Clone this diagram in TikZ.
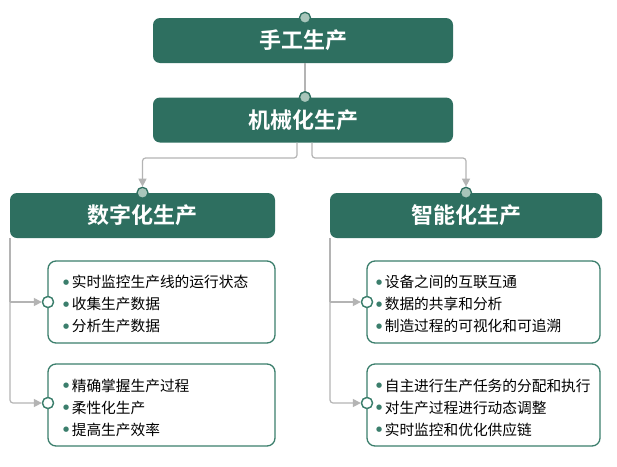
\documentclass[tikz,border=0pt]{standalone}
\usepackage{fontspec}
\setmainfont{Noto Sans CJK SC}
\newfontfamily\cjk{Noto Sans CJK SC}
\newfontfamily\cjkb{Noto Sans CJK SC Bold}
\newfontfamily\dejavu{DejaVu Sans}
\usetikzlibrary{arrows.meta}
\definecolor{dg}{HTML}{2E6F60}
\definecolor{bg}{HTML}{3B7E6C}
\definecolor{lc}{HTML}{A8C5BA}
\definecolor{gl}{HTML}{B4B4B4}
\tikzset{
  title/.style={fill=dg, rounded corners=7pt, minimum height=45pt, inner sep=0pt, text=white, font=\cjkb\fontsize{22}{24}\selectfont},
  detail/.style={draw=bg, line width=1.3pt, fill=white, rounded corners=8pt, minimum width=227pt, minimum height=82pt, inner sep=0pt},
  dtext/.style={align=left, anchor=west, inner sep=0pt, font=\cjk\fontsize{14.7}{22}\selectfont},
  topdot/.style={circle, draw=dg, fill=lc, line width=1.3pt, minimum size=11pt, inner sep=0pt},
  sidedot/.style={circle, draw=bg, fill=white, line width=1.3pt, minimum size=11pt, inner sep=0pt},
  gline/.style={draw=gl, line width=1.2pt, rounded corners=3pt},
  garrow/.style={gline, -{Triangle[length=8pt,width=8pt]}},
}
\newcommand{\bul}{\textcolor{bg}{\raisebox{0.22em}{\dejavu\fontsize{7}{7}\selectfont ●}}\hspace{2.5pt}}
\begin{document}
\begin{tikzpicture}[x=1pt,y=-1pt]
\useasboundingbox (0,0) rectangle (617,466);
\fill[white] (0,0) rectangle (617,466);

% title boxes
\node[title, minimum width=300pt] (t1) at (303,40.5) {手工生产};
\node[title, minimum width=300pt] (t2) at (303,120) {机械化生产};
\node[title, minimum width=265pt] (t3) at (142.5,215.5) {数字化生产};
\node[title, minimum width=272pt] (t4) at (466,215.5) {智能化生产};

% dots on titles
\node[topdot] (d1) at ([xshift=2pt]t1.north) {};
\node[topdot] (d2) at ([xshift=2pt]t2.north) {};
\node[topdot] (d3) at (t3.north) {};
\node[topdot] (d4) at (t4.north) {};

% detail boxes
\node[detail] (b1) at (161.5,302) {};
\node[detail] (b2) at (161.5,405) {};
\node[detail, minimum width=233pt] (b3) at (483.5,302) {};
\node[detail, minimum width=233pt] (b4) at (483.5,405) {};

\node[dtext] (x1) at (63,304) {\bul 实时监控生产线的运行状态\\\bul 收集生产数据\\\bul 分析生产数据};
\node[dtext] (x2) at (63,407.5) {\bul 精确掌握生产过程\\\bul 柔性化生产\\\bul 提高生产效率};
\node[dtext] (x3) at (376,304) {\bul 设备之间的互联互通\\\bul 数据的共享和分析\\\bul 制造过程的可视化和可追溯};
\node[dtext] (x4) at (376,407.5) {\bul 自主进行生产任务的分配和执行\\\bul 对生产过程进行动态调整\\\bul 实时监控和优化供应链};

% side dots
\node[sidedot] (s1) at (48,302) {};
\node[sidedot] (s2) at (48,403) {};
\node[sidedot] (s3) at (367,302) {};
\node[sidedot] (s4) at (367,403) {};

% connectors
\draw[gline] (t1.south -| d1) -- (d2.north);
\coordinate (c1) at (297,158);
\coordinate (c2) at (312,158);
\draw[garrow] (t2.south -| c1) -- (c1) -- (c1 -| d3) -- (d3.north);
\draw[garrow] (t2.south -| c2) -- (c2) -- (c2 -| d4) -- (d4.north);

\coordinate (l1) at (10,0);
\coordinate (r1) at (330,0);
\draw[gline] (t3.south -| l1) -- (l1 |- s1);
\draw[garrow] (l1 |- s1) -- (s1.west);
\draw[garrow] (t3.south -| l1) -- (l1 |- s2) -- (s2.west);
\draw[gline] (t4.south -| r1) -- (r1 |- s3);
\draw[garrow] (r1 |- s3) -- (s3.west);
\draw[garrow] (t4.south -| r1) -- (r1 |- s4) -- (s4.west);

% redraw dots on top of lines
\node[topdot] at (d2) {};
\node[sidedot] at (s1) {};
\node[sidedot] at (s2) {};
\node[sidedot] at (s3) {};
\node[sidedot] at (s4) {};
\end{tikzpicture}
\end{document}
